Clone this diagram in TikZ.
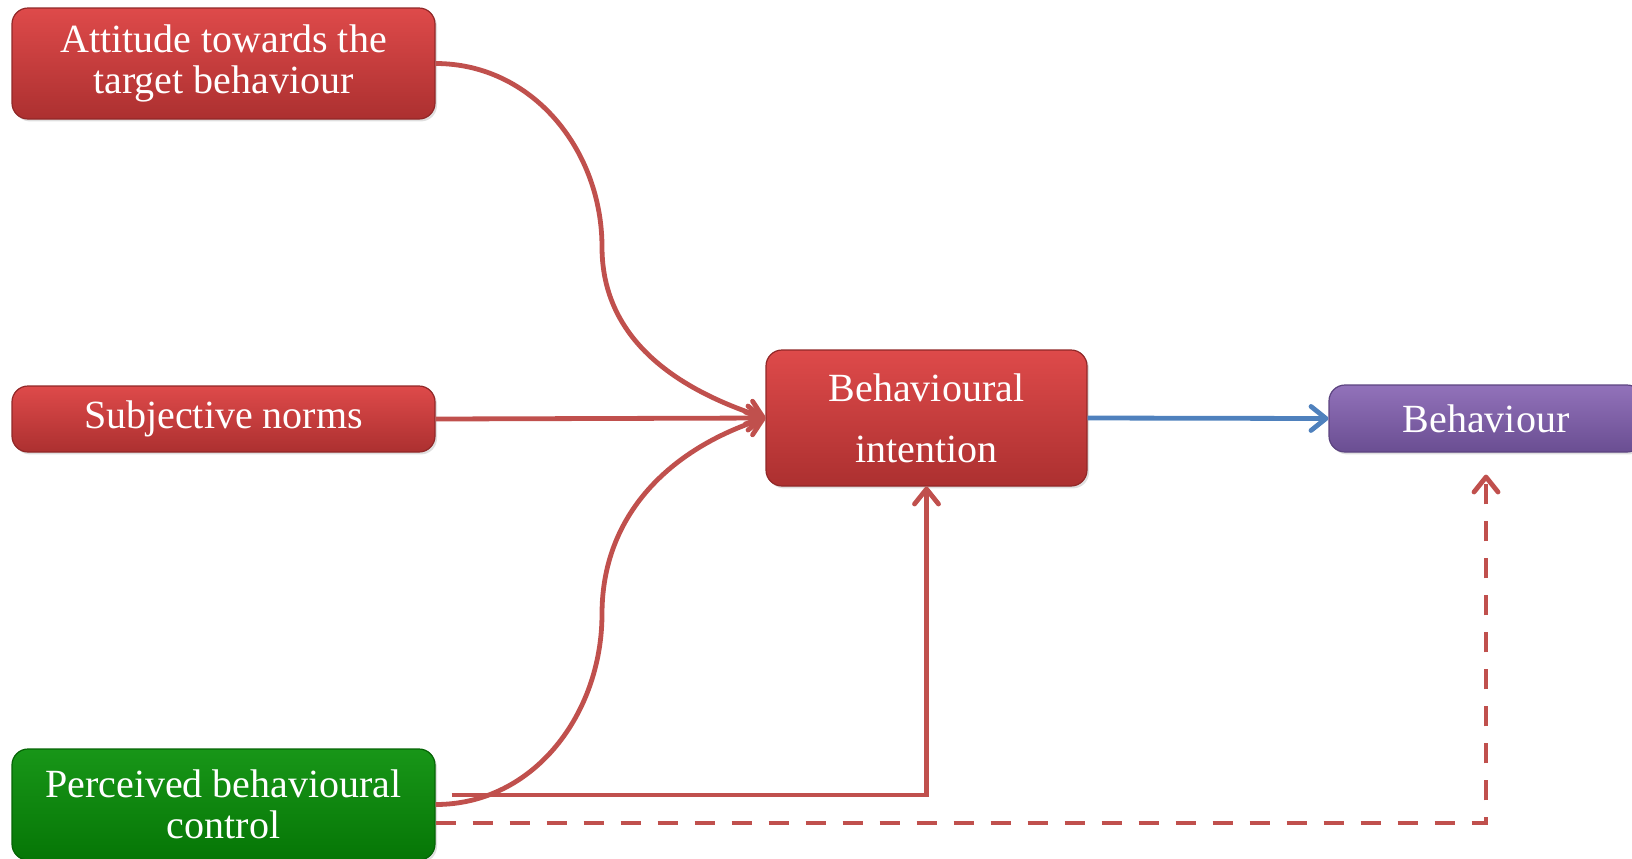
\documentclass[tikz,border=0pt]{standalone}
\usepackage{fontspec}
\setmainfont{Liberation Serif}
\usetikzlibrary{arrows.meta,calc,shadows}
\definecolor{redtop}{RGB}{222,74,74}
\definecolor{redmid}{RGB}{206,62,62}
\definecolor{redbot}{RGB}{172,48,48}
\definecolor{rededge}{RGB}{145,40,40}
\definecolor{grntop}{RGB}{24,150,24}
\definecolor{grnmid}{RGB}{10,136,10}
\definecolor{grnbot}{RGB}{6,118,6}
\definecolor{grnedge}{RGB}{5,100,5}
\definecolor{purtop}{RGB}{146,114,186}
\definecolor{purmid}{RGB}{128,96,166}
\definecolor{purbot}{RGB}{106,78,146}
\definecolor{puredge}{RGB}{92,68,128}
\definecolor{linkred}{RGB}{192,80,77}
\definecolor{linkblue}{RGB}{79,129,189}
\tikzset{
  box/.style={rectangle, rounded corners=8pt, text=white, align=center,
    font=\fontsize{20}{20.5}\selectfont, inner sep=0pt, line width=0.6pt,
    drop shadow={opacity=0.25, shadow xshift=1pt, shadow yshift=-1.2pt}},
  redbox/.style={box, top color=redtop, middle color=redmid, bottom color=redbot, draw=rededge},
  grnbox/.style={box, top color=grntop, middle color=grnmid, bottom color=grnbot, draw=grnedge},
  purbox/.style={box, top color=purtop, middle color=purmid, bottom color=purbot, draw=puredge},
  link/.style={draw=linkred, line width=2.4pt, -{Straight Barb[length=7.5pt,width=12pt,line cap=round,line join=round]}},
  bluelink/.style={link, draw=linkblue},
  dashlink/.style={link, dash pattern=on 10pt off 8.5pt},
}
\begin{document}
\begin{tikzpicture}[x=0.5pt,y=-0.5pt]
\useasboundingbox (0,0) rectangle (1632,858);
\node[redbox, minimum width=211.5pt, minimum height=55.5pt] (att) at (223.5,63.5) {Attitude towards the\\target behaviour};
\node[redbox, minimum width=211.5pt, minimum height=33pt] (sub) at (223.5,419) {Subjective norms};
\node[grnbox, minimum width=211.5pt, minimum height=55.5pt] (pbc) at (223.5,804.5) {Perceived behavioural\\control};
\node[redbox, minimum width=160.5pt, minimum height=68pt, font=\fontsize{20}{30.5}\selectfont] (bi) at (926.5,418) {Behavioural\\intention};
\node[purbox, minimum width=157pt, minimum height=33.5pt] (beh) at (1486,418.5) {Behaviour};
\coordinate (c1) at (602,247);
\coordinate (c2) at (602,614);
\coordinate (e1) at ($(pbc.east)+(16,-9.5)$);
\coordinate (d1) at ($(pbc.east)+(0,18.5)$);
\coordinate (bt) at ($(beh.south)+(0,22)$);
\draw[link] (att.east) to[out=0,in=90] (c1) to[out=-90,in=162] (bi.west);
\draw[link] (sub.east) -- (bi.west);
\draw[link] (pbc.east) to[out=0,in=-90] (c2) to[out=90,in=198] (bi.west);
\draw[link] (e1) -| (bi.south);
\draw[dashlink] (d1) -| (bt);
\draw[bluelink] (bi.east) -- (beh.west);
\end{tikzpicture}
\end{document}
